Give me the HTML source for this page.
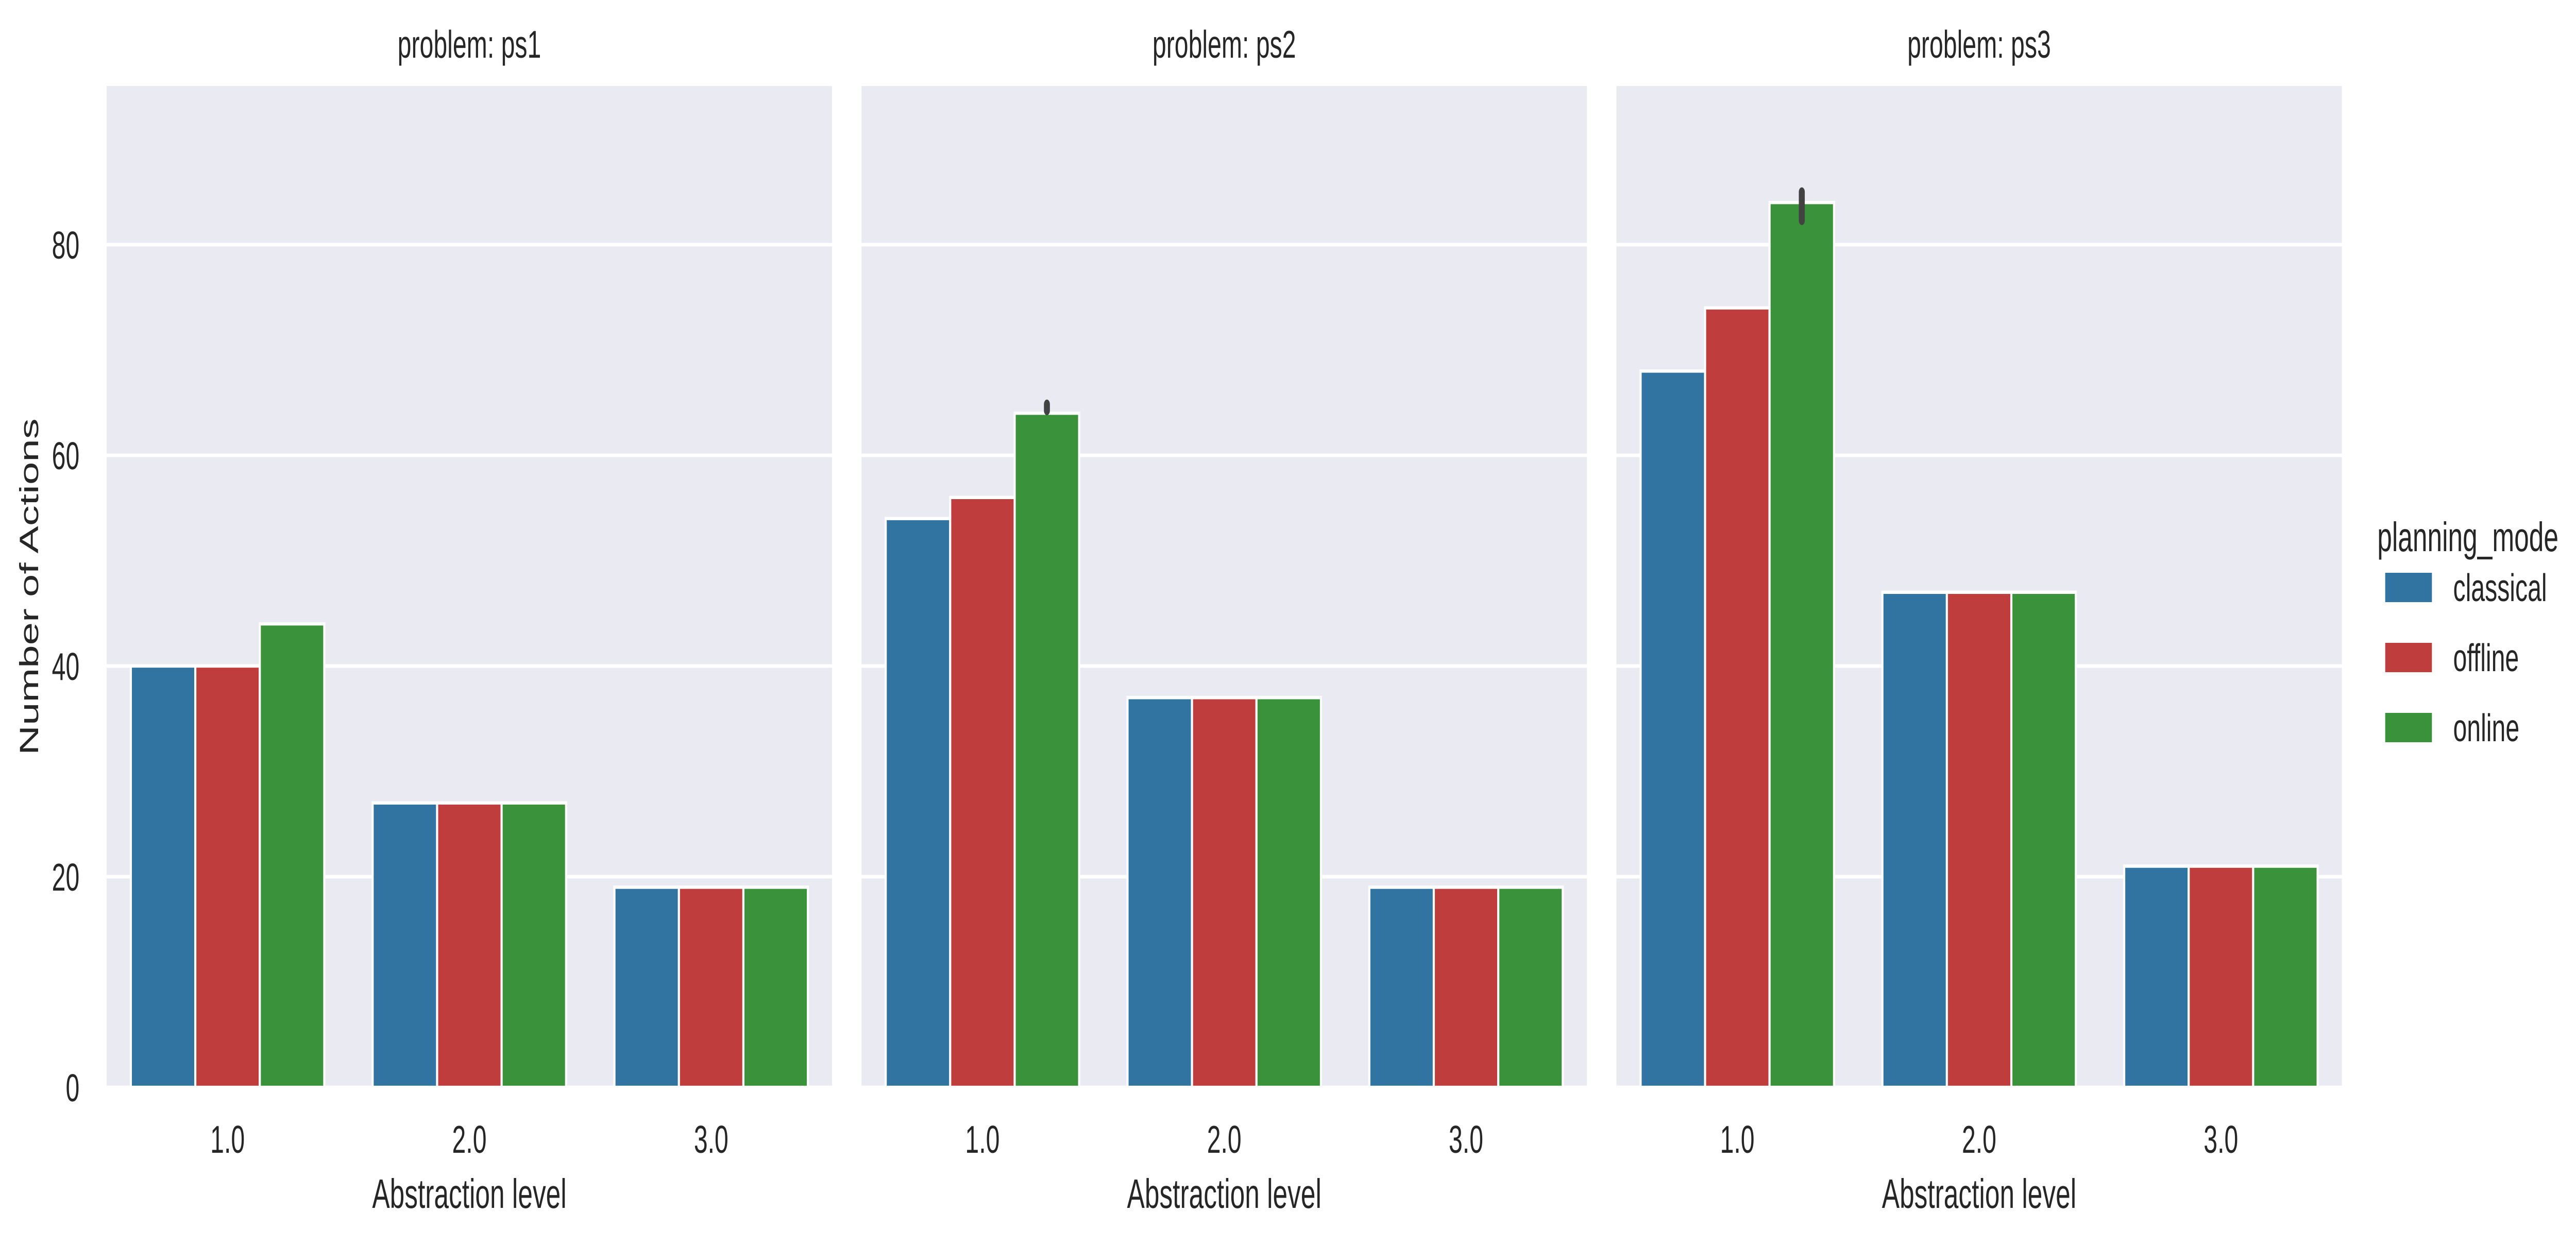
<!DOCTYPE html>
<html><head><meta charset="utf-8"><style>
html,body{margin:0;padding:0;background:#fff;width:100%;height:100%;overflow:hidden;}
svg{display:block;width:100vw;height:100vh;font-family:"Liberation Sans",Arial,sans-serif;}
</style></head><body>
<svg id="chart" viewBox="0 0 7777 2419" preserveAspectRatio="none" xmlns="http://www.w3.org/2000/svg"></svg>
<script>
const problems = ["ps1", "ps2", "ps3"];
const categories = ["1.0", "2.0", "3.0"];
const modes = ["classical", "offline", "online"];
const classicalValues = [[40, 27, 19], [54, 37, 19], [68, 47, 21]];
const offlineValues = [[40, 27, 19], [56, 37, 19], [74, 47, 21]];
const onlineValues = [[44, 27, 19], [64, 37, 19], [84, 47, 21]];
const onlineErrLow = [[44, 27, 19], [64.25, 37, 19], [82.3, 47, 21]];
const onlineErrHigh = [[44, 27, 19], [64.85, 37, 19], [85.0, 47, 21]];
const yTicks = [0, 20, 40, 60, 80];
const yMax = 95.06;

const colors = ["#3274a1", "#c03d3e", "#3a923a"];
const seriesVals = [classicalValues, offlineValues, onlineValues];
const NS = "http://www.w3.org/2000/svg";
const svgEl = document.getElementById("chart");
const panelLefts = [322, 2601, 4880];
const panelW = 2190, plotTop = 167, plotBottom = 2111;
function yScale(v){ return plotBottom - (v / yMax) * (plotBottom - plotTop); }
function xBand(p, c){ return panelLefts[p] + (c + 0.1) * panelW / categories.length; }
const bandW = panelW / categories.length * 0.8 / modes.length;
function mk(tag, attrs, parent){ const e = document.createElementNS(NS, tag); for (const k in attrs) e.setAttribute(k, attrs[k]); (parent||svgEl).appendChild(e); return e; }

problems.forEach((pr, p) => {
  const g = mk("g", {});
  
  
  const bg = mk("rect", {x: panelLefts[p], y: plotTop, width: panelW, height: plotBottom - plotTop, fill: "#eaeaf2"}, g);
  
  
  yTicks.forEach(t => {
    const ln = mk("line", {x1: panelLefts[p], x2: panelLefts[p] + panelW, y1: yScale(t), y2: yScale(t), stroke: "#fff", "stroke-width": 7}, g);
    
    
    if (p === 0) {
      const tx = mk("text", {x: 240, y: yScale(t) + 27, "text-anchor": "end", "font-size": 75, fill: "#262626"}, g);
      tx.textContent = t;
      
      
    }
  });
  categories.forEach((cat, c) => {
    modes.forEach((m, s) => {
      const v = seriesVals[s][p][c];
      const r = mk("rect", {x: xBand(p, c) + s * bandW, y: yScale(v), width: bandW, height: yScale(0) - yScale(v), fill: colors[s], stroke: "#fff", "stroke-width": 6.4}, g);
      
      
    });
    const lo = onlineErrLow[p][c], hi = onlineErrHigh[p][c];
    if (hi - lo > 0.01) {
      const cx = xBand(p, c) + 2.5 * bandW;
      const e = mk("line", {x1: cx, x2: cx, y1: yScale(lo), y2: yScale(hi), stroke: "#424242", "stroke-width": 18, "stroke-linecap": "round"}, g);
      
      
    }
    const tl = mk("text", {x: panelLefts[p] + (c + 0.5) * panelW / categories.length, y: 2238, "text-anchor": "middle", "font-size": 75, fill: "#262626"}, g);
    tl.textContent = cat;
    
    
  });
  const ti = mk("text", {x: panelLefts[p] + panelW / 2, y: 112, "text-anchor": "middle", "font-size": 75, fill: "#262626"}, g);
  ti.textContent = "problem: " + pr;
  
  
  const xl = mk("text", {x: panelLefts[p] + panelW / 2, y: 2345, "text-anchor": "middle", "font-size": 80, fill: "#262626"}, g);
  xl.textContent = "Abstraction level";
  
  
});
const yl = mk("text", {x: 0, y: 0, transform: "translate(115,1139) rotate(-90)", "text-anchor": "middle", "font-size": 80, fill: "#262626"});
yl.textContent = "Number of Actions";



const lg = mk("g", {});


const lt = mk("text", {x: 7177, y: 1070, "font-size": 80, fill: "#262626"}, lg);
lt.textContent = "planning_mode";


modes.forEach((m, s) => {
  const yy = 1112 + s * 136;
  const pr = mk("rect", {x: 7201, y: yy, width: 141, height: 57, fill: colors[s]}, lg);
  
  
  const tx = mk("text", {x: 7406, y: yy + 55, "font-size": 75, fill: "#262626"}, lg);
  tx.textContent = m;
  
  
});
</script>
</body></html>
